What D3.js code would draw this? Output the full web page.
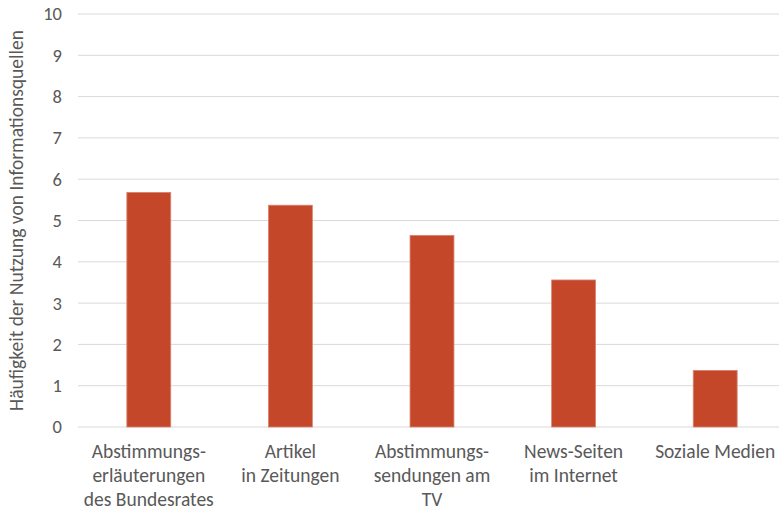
<!DOCTYPE html>
<html>
<head>
<meta charset="utf-8">
<script src="https://cdn.jsdelivr.net/npm/d3@7"></script>
<style>
  body { margin: 0; background: #fff; }
  svg { font-family: Carlito, Lato, "Liberation Sans", sans-serif; }
</style>
</head>
<body>
<svg id="chart" width="779" height="512"></svg>
<script>
// data
const categories = [
    ["Abstimmungs-", "erläuterungen", "des Bundesrates"],
    ["Artikel", "in Zeitungen"],
    ["Abstimmungs-", "sendungen am", "TV"],
    ["News-Seiten", "im Internet"],
    ["Soziale Medien"]
];
const values = [5.68, 5.37, 4.64, 3.56, 1.37];
const yTicks = [0, 1, 2, 3, 4, 5, 6, 7, 8, 9, 10];
const yTitle = "Häufigkeit der Nutzung von Informationsquellen";

const width = 779, height = 512;
const margin = { top: 14, right: -7, bottom: 85, left: 78 };
const fontSize = "19.5px";

const svg = d3.select("#chart");

const x = d3.scaleBand()
    .domain(d3.range(values.length))
    .range([margin.left, width - margin.right])
    .padding(0);

const y = d3.scaleLinear()
    .domain([0, 10])
    .range([height - margin.bottom, margin.top]);

// gridlines
svg.append("g")
    .selectAll("line")
    .data(yTicks)
    .enter()
    .append("line")
    .attr("x1", margin.left)
    .attr("x2", width - margin.right)
    .attr("y1", d => y(d))
    .attr("y2", d => y(d))
    .attr("stroke", "#d9d9d9")
    .attr("stroke-width", 1);

// y axis labels
const yAxis = svg.append("g")
    .attr("transform", `translate(${margin.left - 16},0)`)
    .call(d3.axisLeft(y).tickValues(yTicks).tickSize(0).tickPadding(0));
yAxis.select(".domain").remove();
yAxis.selectAll("text")
    .attr("fill", "#595959")
    .style("font-size", "18.5px")
    .style("font-family", "Carlito, Lato, 'Liberation Sans', sans-serif");

// bars
const barW = x.bandwidth() * 0.31;
svg.append("g")
    .selectAll("rect")
    .data(values)
    .enter()
    .append("rect")
    .attr("x", (d, i) => x(i) + (x.bandwidth() - barW) / 2)
    .attr("width", barW)
    .attr("y", d => y(d))
    .attr("height", d => y(0) - y(d))
    .attr("fill", "#c5472a")
    .attr("stroke", "#d9826f")
    .attr("stroke-width", 0.8);

// x labels
const labels = svg.append("g")
    .selectAll("text")
    .data(categories)
    .enter()
    .append("text")
    .attr("text-anchor", "middle")
    .attr("fill", "#595959")
    .style("font-size", fontSize)
    .attr("x", (d, i) => x(i) + x.bandwidth() / 2)
    .attr("y", y(0) + 31);
labels.selectAll("tspan")
    .data(d => d)
    .enter()
    .append("tspan")
    .attr("x", function () { return d3.select(this.parentNode).attr("x"); })
    .attr("dy", (d, i) => i === 0 ? 0 : 24)
    .text(d => d);

// y title
svg.append("text")
    .attr("transform", `translate(23,${(y(0) + y(10)) / 2}) rotate(-90)`)
    .attr("text-anchor", "middle")
    .attr("fill", "#595959")
    .style("font-size", fontSize)
    .text(yTitle);
</script>
</body>
</html>
